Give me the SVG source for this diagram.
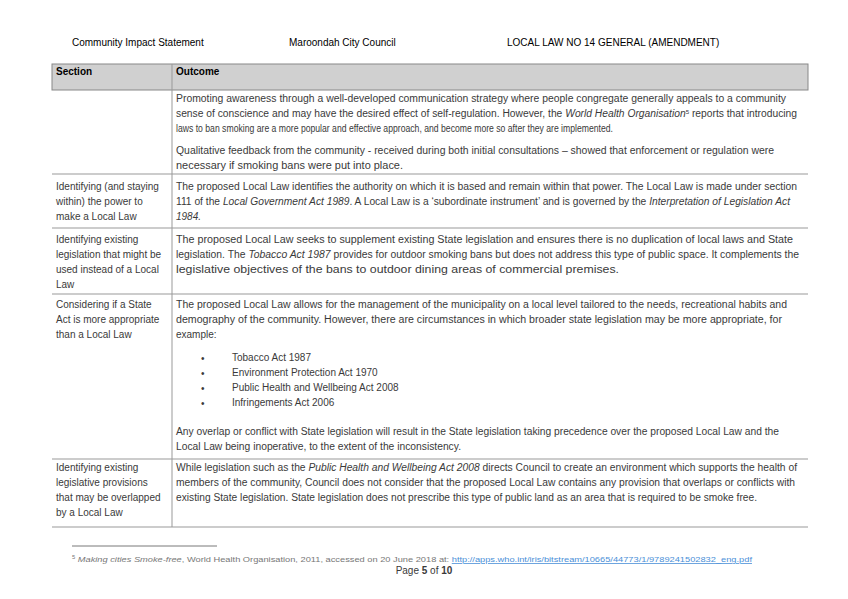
<svg xmlns="http://www.w3.org/2000/svg" width="848" height="599" viewBox="0 0 848 599">
<style>
text{font-family:"Liberation Sans",sans-serif;font-size:10px;fill:#3a3a3a}
.h{fill:#000;font-size:10px}
.b{font-weight:bold;fill:#000}
.i{font-style:italic}
.ln{stroke:#999;stroke-width:1}
.fn{font-size:8px;fill:#777}
</style>
<rect width="848" height="599" fill="#fff"/>
<g id="header">
<text class="h" x="72" y="46">Community Impact Statement</text>
<text class="h" x="289" y="46">Maroondah City Council</text>
<text class="h" x="507" y="46">LOCAL LAW NO 14 GENERAL (AMENDMENT)</text>
</g>
<g id="table">
<rect x="52" y="64" width="756" height="26" fill="#d0d0d0" stroke="#888"/>
<line class="ln" x1="172" y1="64" x2="172" y2="527"/>
<text class="b" x="56" y="75">Section</text>
<text class="b" x="176" y="75">Outcome</text>
<line class="ln" x1="52" y1="174" x2="808" y2="174"/>
<line class="ln" x1="52" y1="228" x2="808" y2="228"/>
<line class="ln" x1="52" y1="294" x2="808" y2="294"/>
<line class="ln" x1="52" y1="459" x2="808" y2="459"/>
<line class="ln" x1="52" y1="527" x2="808" y2="527"/>
</g>
<g id="row1">
<text x="176" y="102" textLength="610" lengthAdjust="spacingAndGlyphs">Promoting awareness through a well-developed communication strategy where people congregate generally appeals to a community</text>
<text x="176" y="117" textLength="621" lengthAdjust="spacingAndGlyphs">sense of conscience and may have the desired effect of self-regulation. However, the <tspan class="i">World Health Organisation</tspan><tspan font-size="6" dy="-3">5</tspan><tspan dy="3"> reports that introducing</tspan></text>
<text x="176" y="132" textLength="437" lengthAdjust="spacingAndGlyphs">laws to ban smoking are a more popular and effective approach, and become more so after they are implemented.</text>
<text x="176" y="154" textLength="598" lengthAdjust="spacingAndGlyphs">Qualitative feedback from the community - received during both initial consultations – showed that enforcement or regulation were</text>
<text x="176" y="169" textLength="227" lengthAdjust="spacingAndGlyphs">necessary if smoking bans were put into place.</text>
</g>
<g id="row2">
<text x="56" y="190">Identifying (and staying</text>
<text x="56" y="205">within) the power to</text>
<text x="56" y="220">make a Local Law</text>
<text x="176" y="190" textLength="621" lengthAdjust="spacingAndGlyphs">The proposed Local Law identifies the authority on which it is based and remain within that power. The Local Law is made under section</text>
<text x="176" y="205" textLength="614" lengthAdjust="spacingAndGlyphs">111 of the <tspan class="i">Local Government Act 1989</tspan>. A Local Law is a ‘subordinate instrument’ and is governed by the <tspan class="i">Interpretation of Legislation Act</tspan></text>
<text x="176" y="220" class="i">1984.</text>
</g>
<g id="row3">
<text x="56" y="243">Identifying existing</text>
<text x="56" y="258">legislation that might be</text>
<text x="56" y="273">used instead of a Local</text>
<text x="56" y="288">Law</text>
<text x="176" y="243" textLength="617" lengthAdjust="spacingAndGlyphs">The proposed Local Law seeks to supplement existing State legislation and ensures there is no duplication of local laws and State</text>
<text x="176" y="258" textLength="623" lengthAdjust="spacingAndGlyphs">legislation.  The <tspan class="i">Tobacco Act 1987</tspan> provides for outdoor smoking bans but does not address this type of public space. It complements the</text>
<text x="176" y="273" textLength="443" lengthAdjust="spacingAndGlyphs">legislative objectives of the bans to outdoor dining areas of commercial premises.</text>
</g>
<g id="row4">
<text x="56" y="308">Considering if a State</text>
<text x="56" y="323">Act is more appropriate</text>
<text x="56" y="338">than a Local Law</text>
<text x="176" y="308" textLength="611" lengthAdjust="spacingAndGlyphs">The proposed Local Law allows for the management of the municipality on a local level tailored to the needs, recreational habits and</text>
<text x="176" y="323" textLength="606" lengthAdjust="spacingAndGlyphs">demography of the community. However, there are circumstances in which broader state legislation may be more appropriate, for</text>
<text x="176" y="338">example:</text>
<g font-size="12"><text x="201" y="362" font-size="12">•</text><text x="201" y="377" font-size="12">•</text><text x="201" y="392" font-size="12">•</text><text x="201" y="407" font-size="12">•</text></g>
<text x="232" y="361">Tobacco Act 1987</text>
<text x="232" y="376">Environment Protection Act 1970</text>
<text x="232" y="391">Public Health and Wellbeing Act 2008</text>
<text x="232" y="406">Infringements Act 2006</text>
<text x="176" y="435" textLength="603" lengthAdjust="spacingAndGlyphs">Any overlap or conflict with State legislation will result in the State legislation taking precedence over the proposed Local Law and the</text>
<text x="176" y="450" textLength="285" lengthAdjust="spacingAndGlyphs">Local Law being inoperative, to the extent of the inconsistency.</text>
</g>
<g id="row5">
<text x="56" y="471">Identifying existing</text>
<text x="56" y="486">legislative provisions</text>
<text x="56" y="501">that may be overlapped</text>
<text x="56" y="516">by a Local Law</text>
<text x="176" y="471" textLength="621" lengthAdjust="spacingAndGlyphs">While legislation such as the <tspan class="i">Public Health and Wellbeing Act 2008</tspan> directs Council to create an environment which supports the health of</text>
<text x="176" y="486" textLength="619" lengthAdjust="spacingAndGlyphs">members of the community, Council does not consider that the proposed Local Law contains any provision that overlaps or conflicts with</text>
<text x="176" y="501" textLength="581" lengthAdjust="spacingAndGlyphs">existing State legislation. State legislation does not prescribe this type of public land as an area that is required to be smoke free.</text>
</g>
<g id="footer">
<line x1="72" y1="546" x2="217" y2="546" stroke="#555" stroke-width="0.8"/>
<text class="fn" x="72" y="562" textLength="680" lengthAdjust="spacingAndGlyphs"><tspan font-size="5" dy="-3">5</tspan><tspan dy="3" class="i"> Making cities Smoke-free</tspan>, World Health Organisation, 2011, accessed on 20 June 2018 at: <tspan fill="#4a8fd8" text-decoration="underline">http://apps.who.int/iris/bitstream/10665/44773/1/9789241502832_eng.pdf</tspan></text>
<text x="424" y="574" text-anchor="middle" fill="#222" font-size="9">Page <tspan font-weight="bold">5</tspan> of <tspan font-weight="bold">10</tspan></text>
</g>
</svg>
